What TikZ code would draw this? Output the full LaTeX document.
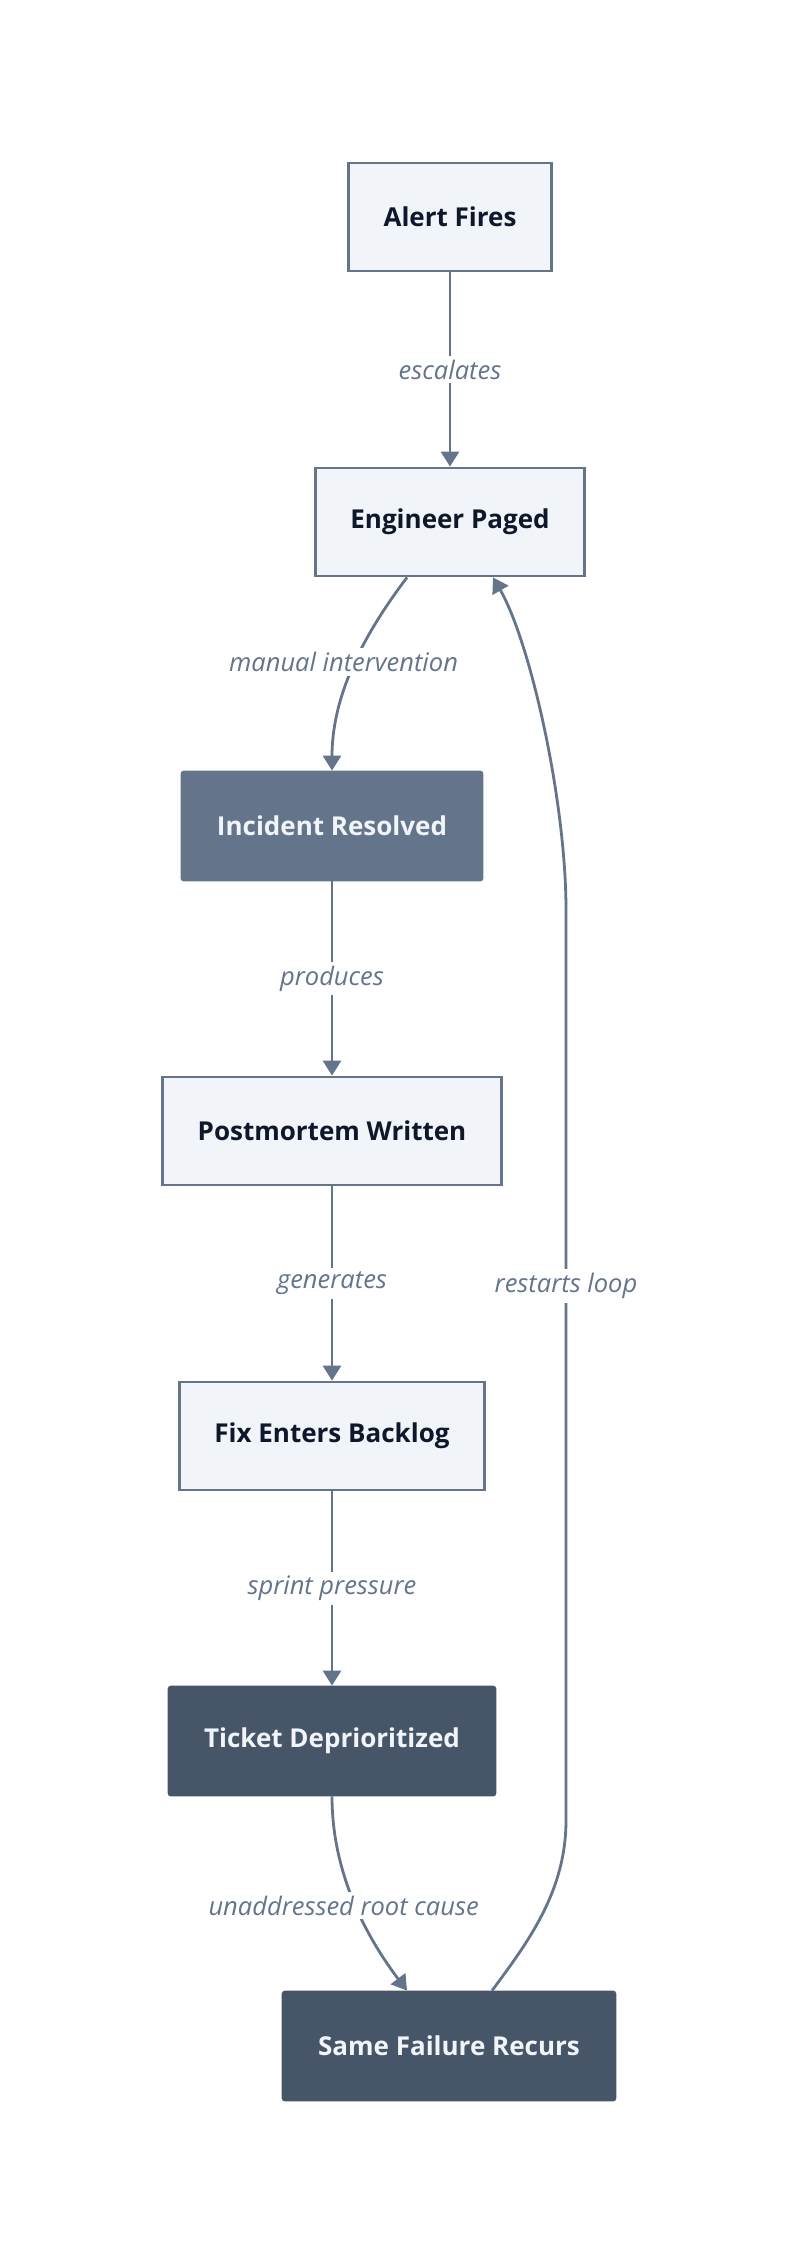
\documentclass[tikz,border=0pt]{standalone}
\usepackage{fontspec}
\setmainfont{Open Sans}
\usepackage{tikz}
\usepackage{xcolor}
\usetikzlibrary{arrows.meta}

\definecolor{boxfill}{HTML}{F1F4F9}
\definecolor{slateline}{HTML}{64748B}
\definecolor{slatedark}{HTML}{475569}
\definecolor{inktext}{HTML}{0F172A}
\definecolor{paletext}{HTML}{F1F5F9}

\begin{document}
\begin{tikzpicture}[x=1pt, y=-1pt,
        step box/.style={draw=slateline, line width=2.8pt, fill=boxfill, text=inktext,
            font=\fontsize{26}{30}\selectfont\bfseries, minimum height=108pt, inner xsep=35pt},
        mid box/.style={step box, draw=slateline, fill=slateline, text=paletext, rounded corners=2pt},
        dark box/.style={step box, draw=slatedark, fill=slatedark, text=paletext, rounded corners=2pt},
        edge/.style={draw=slateline, line width=2.8pt, -{Triangle[length=15pt, width=18pt]}},
        lbl/.style={fill=white, text=slateline, inner sep=4pt,
            font=\fontsize{25.5}{30}\selectfont\itshape}]
        \useasboundingbox (0,0) rectangle (800,2263);

        \node (n1) at (450, 217) [step box] {Alert Fires};
        \node (n2) at (450, 522) [step box] {Engineer Paged};
        \node (n3) at (332, 826) [mid box] {Incident Resolved};
        \node (n4) at (332,1131) [step box] {Postmortem Written};
        \node (n5) at (332,1436) [step box] {Fix Enters Backlog};
        \node (n6) at (332,1741) [dark box] {Ticket Deprioritized};
        \node (n7) at (449,2046) [dark box] {Same Failure Recurs};

        \coordinate (loopbot) at (566,1820);
        \coordinate (looptop) at (566, 910);

        \draw[edge] (n1) -- (n2) node[midway, lbl] {escalates};
        \draw[edge] ([xshift=-43pt]n2.south) .. controls ++(-37,49) and ++(0,-81) .. (n3.north)
            node[pos=0.5, lbl, xshift=-12pt] {manual intervention};
        \draw[edge] (n3) -- (n4) node[midway, lbl] {produces};
        \draw[edge] (n4) -- (n5) node[midway, lbl] {generates};
        \draw[edge] (n5) -- (n6) node[midway, lbl] {sprint pressure};
        \draw[edge] (n6.south) .. controls ++(0,81) and ++(-37,-49) .. ([xshift=-42pt]n7.north)
            node[pos=0.5, lbl, xshift=-12pt] {unaddressed root cause};
        \draw[edge] ([xshift=43pt]n7.north) .. controls ++(38,-51) and ++(0,70) .. (loopbot)
            -- node[pos=0.587, lbl] {restarts loop} (looptop)
            .. controls ++(0,-110) and ++(37,64) .. ([xshift=43pt]n2.south);
    \end{tikzpicture}
\end{document}
